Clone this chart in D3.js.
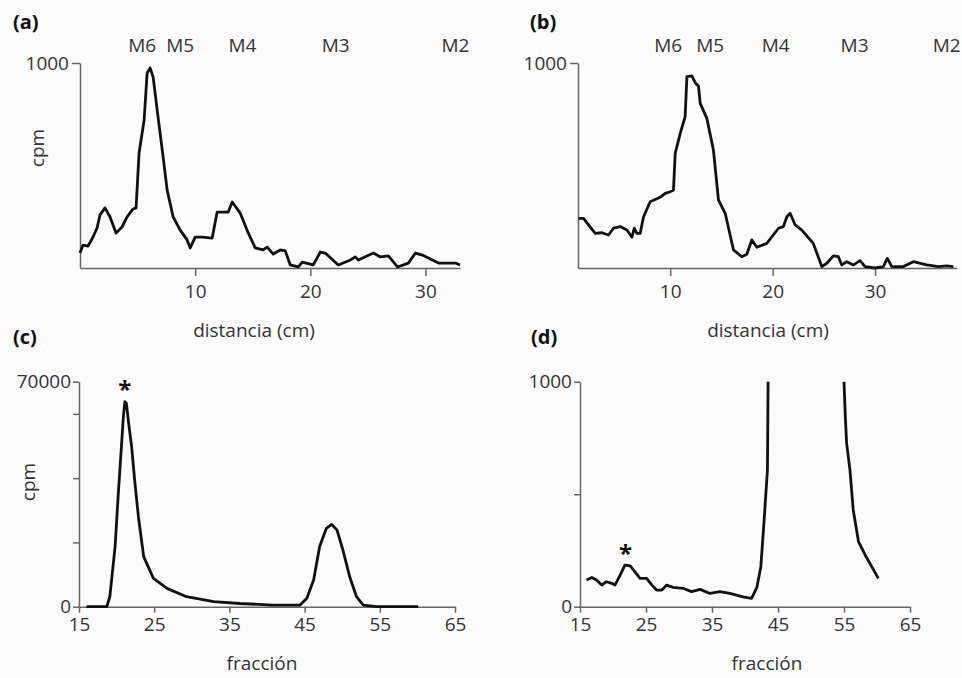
<!DOCTYPE html>
<html>
<head>
<meta charset="utf-8">
<script src="https://cdn.jsdelivr.net/npm/d3@7"></script>
<style>
body { margin: 0; background: #fbfbfb; }
text { font-family: "Open Sans", "Noto Sans", sans-serif; fill: #333; }
</style>
</head>
<body>
<script>
// panel a: distancia (cm) vs cpm
var aDist = [0,0.26,0.7,1.13,1.48,1.74,2.17,2.61,3.13,3.65,4.09,4.61,4.87,5.13,5.57,5.83,6.09,6.35,6.7,7.22,7.57,8.09,8.7,9.3,9.57,10,10.61,11.48,11.91,12.87,13.22,13.91,14.61,15.22,15.91,16.26,16.78,17.39,17.83,18.26,18.96,19.3,20.26,20.87,21.3,22.43,23.48,23.91,24.17,25.48,26.09,26.78,27.57,28.52,29.13,29.74,31.13,32.61,33];
var aCpm = [73,112,107,151,195,259,293,249,171,200,249,288,293,561,722,951,976,932,771,541,380,249,185,137,98,151,151,146,273,273,322,268,171,98,88,102,68,88,83,15,5,29,15,78,73,15,39,54,39,73,54,59,5,24,73,63,24,24,15];

// panel b
var bDist = [1.05,1.54,2.03,2.68,3.34,3.98,4.47,5.12,5.78,6.26,6.49,6.75,7.07,7.4,8.05,9.02,9.51,10,10.32,10.49,10.98,11.46,11.63,12.12,12.44,12.76,12.93,13.58,14.22,14.71,15.37,16.18,16.99,17.48,17.97,18.46,19.43,20.57,21.05,21.39,21.71,22.2,22.85,23.97,24.8,25.29,25.93,26.42,26.75,27.24,27.89,28.54,29.02,30,30.81,31.2,31.63,32.76,33.74,35.04,36.18,37,37.64];
var bCpm = [242,242,210,169,172,161,194,202,185,150,194,169,169,250,323,345,364,372,380,559,657,738,933,937,904,888,803,730,576,332,267,88,55,67,137,101,120,194,202,250,267,210,185,120,7,23,59,55,15,31,15,36,7,0,7,47,7,7,31,15,7,10,7];

// panel c: fracción vs cpm
var cFrac = [16,18.7,19.1,19.8,20.2,20.7,20.9,21.1,21.3,21.6,22,22.4,22.9,23.6,24.9,26.7,29.3,32.9,36.4,40.8,44.4,45.3,46.2,47,47.9,48.6,49.3,50.1,51,51.9,52.8,54.6,60.1];
var cCpm = [0,0,3100,18700,34200,51900,59100,63800,63300,57100,49800,39400,28000,15600,8800,5700,3100,1600,1000,500,500,2600,8300,18700,24400,25600,23900,17600,9300,3100,500,0,0];

// panel d: same run, zoomed to 0-1000 (peak clipped, null = off scale)
var dFrac = [16,16.8,17.5,18.3,19,19.8,20.3,21.1,21.8,22.6,23.3,24.1,25.1,25.9,26.6,27.4,28.1,29.1,30.7,31.9,33.2,34.7,36.2,37.7,39.7,41,41.8,42.4,42.9,43.4,43.5,49,55,55.2,55.4,55.9,56.4,57.2,58.2,59.2,60.2];
var dCpm = [119,130,119,96,111,104,96,141,185,181,156,126,126,96,74,74,96,86,81,67,77,59,67,59,44,37,86,178,385,608,1000,null,1000,844,726,608,430,289,230,178,126];

var markerNames = ["M6","M5","M4","M3","M2"];
var aMarkers = [5.4,8.7,14.1,22.2,32.6];
var bMarkers = [9.8,13.9,20.3,28.0,37.0];

var fs = 19;

var svg = d3.select("body").append("svg")
	.attr("width", 962)
	.attr("height", 678);

function drawPanel(p) {
	var x = d3.scaleLinear().domain(p.xdom).range(p.xr);
	var y = d3.scaleLinear().domain(p.ydom).range(p.yr);
	var g = svg.append("g");

	var xa = g.append("g")
		.attr("transform", `translate(0,${p.yr[0]})`)
		.call(d3.axisBottom(x).tickValues(p.xticks).tickSize(p.tick).tickSizeOuter(0).tickPadding(p.xpad));
	var ya = g.append("g")
		.attr("transform", `translate(${p.xr[0]},0)`)
		.call(d3.axisLeft(y).tickValues(p.yticks).tickSize(p.tick).tickSizeOuter(0).tickPadding(p.ypad)
			.tickFormat(d => p.ylabels.indexOf(d) >= 0 ? d : ""));
	[xa, ya].forEach(a => {
		a.selectAll("path, line").attr("stroke", "#666").attr("stroke-width", 1.5);
		a.selectAll("text").attr("font-size", fs).attr("fill", "#333")
			.style("font-family", '"Open Sans", "Noto Sans", sans-serif');
	});

	var line = d3.line()
		.defined(d => d[1] != null)
		.x(d => x(d[0]))
		.y(d => y(d[1]));
	g.append("path")
		.datum(d3.zip(p.xs, p.ys))
		.attr("d", line)
		.attr("fill", "none")
		.attr("stroke", "#111")
		.attr("stroke-width", 2.8)
		.attr("stroke-linejoin", "round");

	g.append("text").attr("x", p.tag[0]).attr("y", p.tag[1])
		.text(p.tagText).attr("font-size", 20).attr("font-weight", "bold").style("fill", "#111");
	g.append("text").attr("x", p.title[0]).attr("y", p.title[1])
		.text(p.titleText).attr("font-size", fs).attr("text-anchor", "middle");
	if (p.ylab) {
		g.append("text")
			.attr("transform", `translate(${p.ylab[0]},${p.ylab[1]}) rotate(-90)`)
			.text("cpm").attr("font-size", fs).attr("text-anchor", "middle");
	}
	if (p.markers) {
		g.selectAll(".mk").data(p.markers).enter().append("text")
			.attr("x", d => x(d))
			.attr("y", 52)
			.text((d, i) => markerNames[i])
			.attr("font-size", fs)
			.attr("text-anchor", "middle");
	}
	if (p.star) {
		g.append("text").attr("x", x(p.star[0])).attr("y", y(p.star[1]))
			.text("*").attr("font-size", 24).attr("font-weight", "bold")
			.attr("text-anchor", "middle").style("fill", "#111");
	}
}

drawPanel({
	xs: aDist, ys: aCpm, xdom: [0, 33], xr: [80, 460], ydom: [0, 1000], yr: [268, 63],
	xticks: [10, 20, 30], yticks: [1000], ylabels: [1000], tick: 8, xpad: 9, ypad: 3,
	tag: [13, 29], tagText: "(a)", title: [254, 337], titleText: "distancia (cm)",
	ylab: [44, 148], markers: aMarkers
});
drawPanel({
	xs: bDist, ys: bCpm, xdom: [1, 38], xr: [578, 957], ydom: [0, 1000], yr: [268, 63],
	xticks: [10, 20, 30], yticks: [1000], ylabels: [1000], tick: 8, xpad: 9, ypad: 3,
	tag: [530, 29], tagText: "(b)", title: [768, 337], titleText: "distancia (cm)",
	markers: bMarkers
});
drawPanel({
	xs: cFrac, ys: cCpm, xdom: [15, 65], xr: [79, 455], ydom: [0, 70000], yr: [606.7, 381.7],
	xticks: [15, 25, 35, 45, 55, 65], yticks: [0, 20000, 40000, 60000, 70000], ylabels: [0, 70000],
	tick: 6, xpad: 5, ypad: 2,
	tag: [13, 344], tagText: "(c)", title: [262, 670], titleText: "fracción",
	ylab: [35, 482], star: [21.1, 65000]
});
drawPanel({
	xs: dFrac, ys: dCpm, xdom: [15, 65], xr: [580, 910], ydom: [0, 1000], yr: [606.7, 381.7],
	xticks: [15, 25, 35, 45, 55, 65], yticks: [0, 500, 1000], ylabels: [0, 1000],
	tick: 6, xpad: 5, ypad: 2,
	tag: [531, 344], tagText: "(d)", title: [767, 670], titleText: "fracción",
	star: [21.9, 200]
});
</script>
</body>
</html>
